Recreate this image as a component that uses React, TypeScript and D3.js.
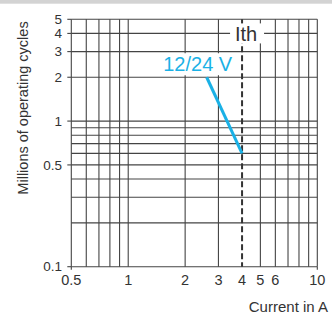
import React from "react";
import * as d3 from "d3";

const xTickValues = [0.5, 1, 2, 3, 4, 5, 6, 10];
const xTickLabels = ["0.5", "1", "2", "3", "4", "5", "6", "10"];
const xGridValues = [0.5, 0.6, 0.7, 0.8, 0.9, 1, 2, 3, 5, 6, 7, 8, 9, 10];
const yTickValues = [0.1, 0.5, 1, 2, 3, 4, 5];
const yTickLabels = ["0.1", "0.5", "1", "2", "3", "4", "5"];
const yGridValues = [0.1, 0.2, 0.3, 0.4, 0.5, 0.6, 0.7, 0.8, 0.9, 1, 2, 3, 4, 5];
const curveCurrent = [2.6, 4];
const curveCycles = [2, 0.6];
const seriesLabel = "12/24 V";
const ithCurrent = 4;
const ithLabel = "Ith";

const W = 332;
const H = 320;
const left = 71.3;
const right = 317.3;
const top = 19.3;
const bottom = 266.7;
const blue = "#1ab1e6";
const ink = "#333";
const gridColor = "#444";
const font = "'Liberation Sans', Arial, sans-serif";

export default function App() {
  const x = d3.scaleLog().domain([0.5, 10]).range([left, right]);
  const y = d3.scaleLog().domain([0.1, 5]).range([bottom, top]);
  const line = d3
    .line<number>()
    .x((_, i) => x(curveCurrent[i]))
    .y((d) => y(d));

  const lx = x(curveCurrent[0]);
  const ly = y(curveCycles[0]);
  const ix = x(ithCurrent);
  const iy = y(4);

  return (
    <svg
      width={W}
      height={H}
      style={{ position: "absolute", left: 0, top: 0, background: "#fff" }}
      fontFamily={font}
    >
      <rect x={0} y={0} width={W} height={3.7} fill="#d3d3d3" />
      {yGridValues.map((v) => (
        <line key={"h" + v} x1={left} x2={right} y1={y(v)} y2={y(v)} stroke={gridColor} strokeWidth={1.1} />
      ))}
      {xGridValues.map((v) => (
        <line key={"v" + v} x1={x(v)} x2={x(v)} y1={top} y2={bottom} stroke={gridColor} strokeWidth={1.1} />
      ))}
      {yTickValues.map((v, i) => (
        <g key={"yt" + v}>
          <line x1={left - 4} x2={left} y1={y(v)} y2={y(v)} stroke={gridColor} strokeWidth={1.1} />
          <text x={62} y={y(v)} dy="0.35em" textAnchor="end" fontSize={13.5} fill={ink}>
            {yTickLabels[i]}
          </text>
        </g>
      ))}
      <line x1={left} x2={left} y1={bottom} y2={bottom + 3} stroke={gridColor} strokeWidth={1.1} />
      <line x1={right} x2={right} y1={bottom} y2={bottom + 3} stroke={gridColor} strokeWidth={1.1} />
      {xTickValues.map((v, i) => (
        <text key={"xt" + v} x={x(v)} y={285} textAnchor="middle" fontSize={14.5} fill={ink}>
          {xTickLabels[i]}
        </text>
      ))}
      <line x1={ix} x2={ix} y1={top} y2={bottom} stroke={ink} strokeWidth={2} strokeDasharray="6,3" />
      <rect x={ix - 12} y={iy - 10} width={34} height={20} fill="#fff" />
      <text x={ix + 4} y={iy + 7.5} textAnchor="middle" fontSize={20} fill={ink}>
        {ithLabel}
      </text>
      <rect x={lx - 47} y={ly - 24} width={75} height={22} fill="#fff" />
      <text x={lx - 9} y={ly - 6} textAnchor="middle" fontSize={20} fill={blue}>
        {seriesLabel}
      </text>
      <path d={line(curveCycles) || ""} fill="none" stroke={blue} strokeWidth={3} />
      <text x={328} y={312} textAnchor="end" fontSize={15} fill={ink}>
        Current in A
      </text>
      <text
        transform={`translate(28, ${(top + bottom) / 2 - 35}) rotate(-90)`}
        textAnchor="middle"
        fontSize={14.5}
        fill={ink}
      >
        Millions of operating cycles
      </text>
    </svg>
  );
}
